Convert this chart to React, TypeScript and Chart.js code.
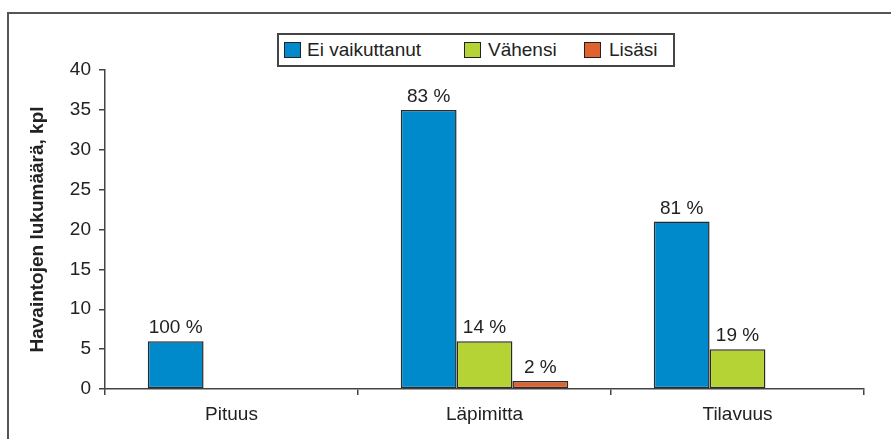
import React, { useEffect, useRef } from "react";
import { Chart, registerables } from "chart.js";

Chart.register(...registerables);

const FONT = '"Liberation Sans", Arial, Helvetica, sans-serif';

const categories = ["Pituus", "Läpimitta", "Tilavuus"];
const seriesNames = ["Ei vaikuttanut", "Vähensi", "Lisäsi"];
const eiVaikuttanut = [6, 35, 21];
const vahensi = [0, 6, 5];
const lisasi = [0, 1, 0];
const eiVaikuttanutPct = ["100 %", "83 %", "81 %"];
const vahensiPct = ["", "14 %", "19 %"];
const lisasiPct = ["", "2 %", ""];
const yMin = 0;
const yMax = 40;
const yStep = 5;
const yTitle = "Havaintojen lukumäärä, kpl";
const seriesColors = ["#008ACB", "#B5D334", "#E0622F"];

const seriesValues = [eiVaikuttanut, vahensi, lisasi];
const seriesPct = [eiVaikuttanutPct, vahensiPct, lisasiPct];

const pctPlugin = {
  id: "pctLabels",
  afterDatasetsDraw(chart: any) {
    const ctx = chart.ctx;
    ctx.save();
    ctx.font = `19px ${FONT}`;
    ctx.fillStyle = "#222";
    ctx.textAlign = "center";
    ctx.textBaseline = "alphabetic";
    chart.data.datasets.forEach((_ds: any, i: number) => {
      const meta = chart.getDatasetMeta(i);
      meta.data.forEach((bar: any, j: number) => {
        const t = seriesPct[i][j];
        if (!t) return;
        ctx.fillText(t, bar.x, bar.y - 8);
      });
    });
    ctx.restore();
  },
};

export default function App() {
  const ref = useRef<HTMLCanvasElement | null>(null);

  useEffect(() => {
    if (!ref.current) return;
    const chart = new Chart(ref.current, {
      type: "bar",
      data: {
        labels: categories,
        datasets: seriesNames.map((name, i) => ({
          label: name,
          data: seriesValues[i],
          backgroundColor: seriesColors[i],
          borderColor: "#2a2a2a",
          borderWidth: seriesValues[i].map((v) => (v === 0 ? 0 : 1.5)),
          borderSkipped: false,
          categoryPercentage: 0.662,
          barPercentage: 1,
        })),
      },
      options: {
        animation: false,
        responsive: true,
        maintainAspectRatio: false,
        layout: { padding: { left: 0, top: 70, right: 27, bottom: 10 } },
        plugins: {
          legend: { display: false },
          tooltip: { enabled: false },
        },
        scales: {
          x: {
            afterFit: (s: any) => {
              s.height = 40;
            },
            grid: {
              display: true,
              drawOnChartArea: false,
              drawTicks: true,
              tickLength: 6,
              color: "#444",
              lineWidth: 1.5,
              offset: true,
            },
            border: { display: true, color: "#444", width: 1.5 },
            ticks: {
              color: "#222",
              font: { family: FONT, size: 19 },
              padding: 8,
              maxRotation: 0,
            },
          },
          y: {
            min: yMin,
            max: yMax,
            afterFit: (s: any) => {
              s.width = 105;
            },
            grid: {
              display: true,
              drawOnChartArea: false,
              drawTicks: true,
              tickLength: 6,
              color: "#444",
              lineWidth: 1.5,
            },
            border: { display: true, color: "#444", width: 1.5 },
            ticks: {
              stepSize: yStep,
              color: "#222",
              font: { family: FONT, size: 19 },
              padding: 8,
            },
            title: {
              display: true,
              text: yTitle,
              color: "#222",
              font: { family: FONT, size: 19, weight: "bold" },
              padding: { top: 26, bottom: 0 },
            },
          },
        },
      },
      plugins: [pctPlugin],
    });
    return () => chart.destroy();
  }, []);

  const legendItems = [
    { box: 284, text: 307 },
    { box: 464, text: 488 },
    { box: 584, text: 609 },
  ];

  return (
    <div
      style={{
        position: "absolute",
        left: 0,
        top: 0,
        width: 891,
        height: 439,
        overflow: "hidden",
        background: "#fff",
        fontFamily: FONT,
      }}
    >
      <div
        style={{
          position: "absolute",
          left: 7,
          top: 12,
          width: 920,
          height: 460,
          borderLeft: "2px solid #555",
          borderTop: "2px solid #555",
        }}
      />
      <div style={{ position: "absolute", left: 0, top: 0, width: 891, height: 439 }}>
        <canvas ref={ref} />
      </div>
      <div
        style={{
          position: "absolute",
          left: 277,
          top: 33,
          width: 398,
          height: 34,
          boxSizing: "border-box",
          border: "2px solid #444",
          background: "#fff",
        }}
      />
      {legendItems.map((it, i) => (
        <React.Fragment key={seriesNames[i]}>
          <div
            style={{
              position: "absolute",
              left: it.box,
              top: 42,
              width: 17,
              height: 16,
              boxSizing: "border-box",
              border: "1px solid #222",
              background: seriesColors[i],
            }}
          />
          <div
            style={{
              position: "absolute",
              left: it.text,
              top: 39,
              height: 22,
              lineHeight: "22px",
              fontSize: 19,
              color: "#222",
              whiteSpace: "nowrap",
            }}
          >
            {seriesNames[i]}
          </div>
        </React.Fragment>
      ))}
    </div>
  );
}
